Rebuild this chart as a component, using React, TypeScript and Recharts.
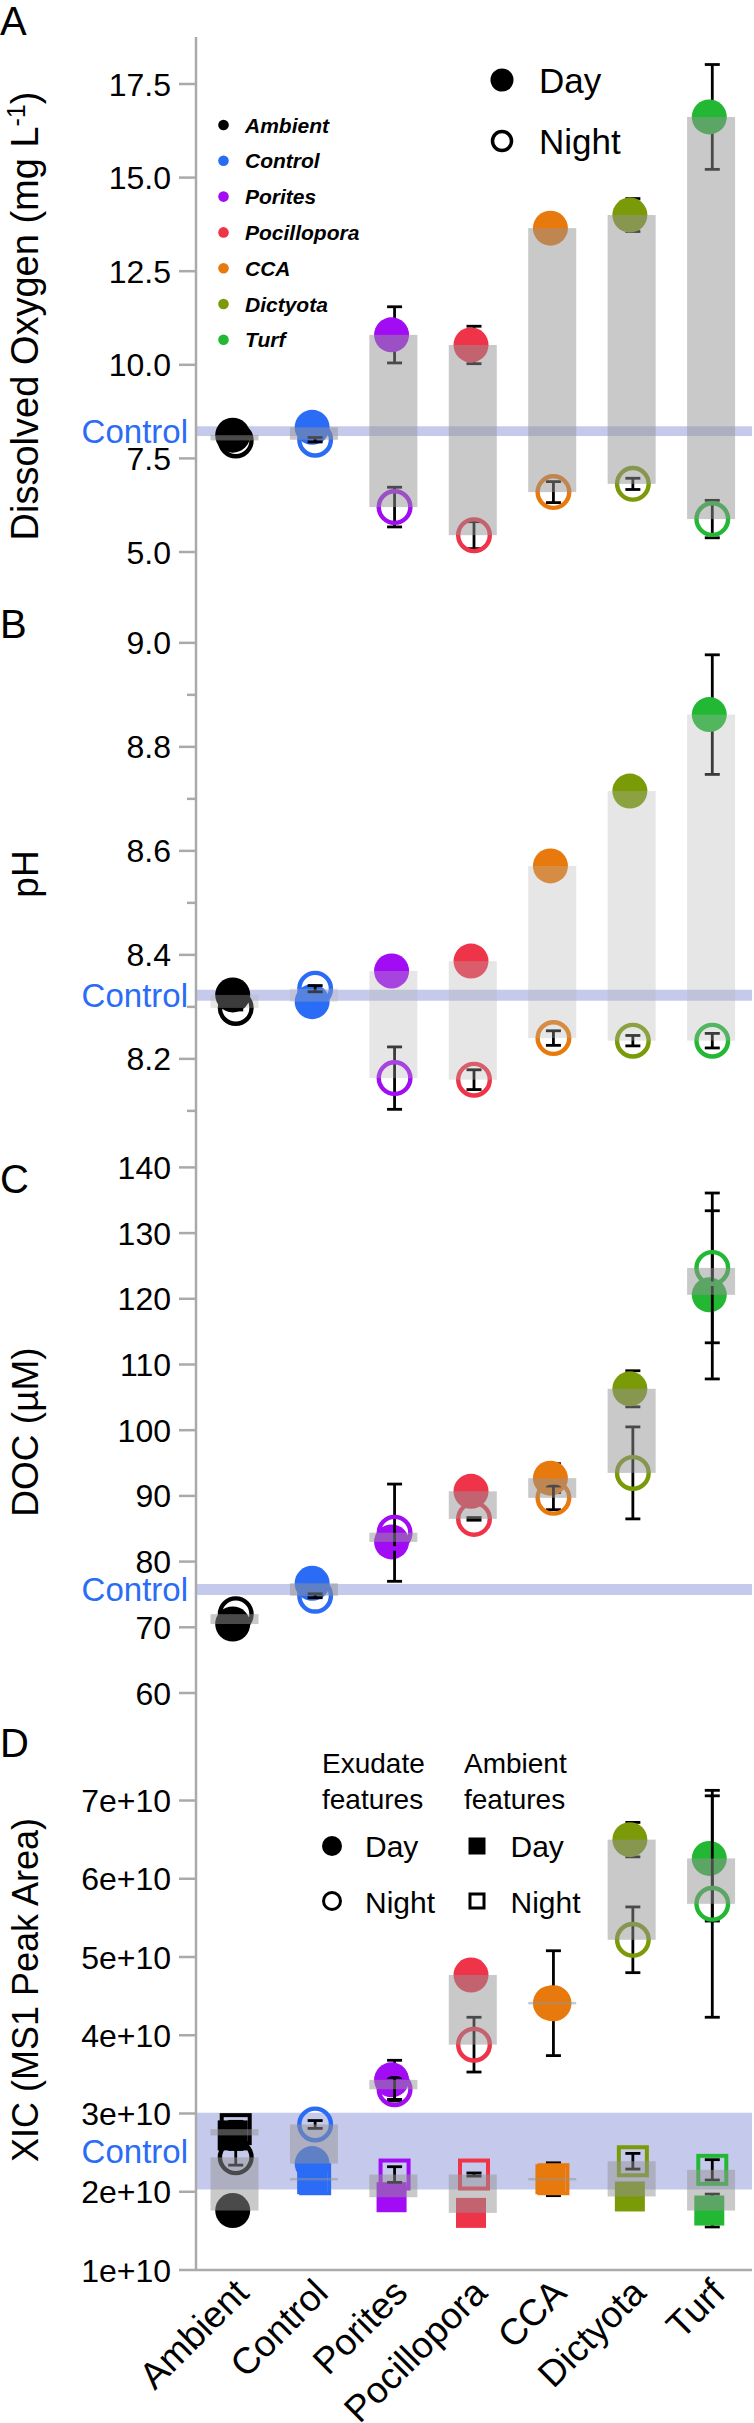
import React from 'react';
import { ComposedChart, Scatter, Bar, XAxis, YAxis, ErrorBar, ReferenceArea } from 'recharts';

const FONT = '"Liberation Sans", Arial, Helvetica, sans-serif';

const categories = ['Ambient', 'Control', 'Porites', 'Pocillopora', 'CCA', 'Dictyota', 'Turf'];
const categoryColors = ['#000000', '#2b6cf6', '#a20cf5', '#ef3349', '#e8790c', '#7a9a08', '#22b834'];

// Panel A: dissolved oxygen
const oxygenDay = [8.12, 8.33, 10.8, 10.53, 13.65, 14.0, 16.62];
const oxygenNight = [7.98, 8.0, 6.2, 5.45, 6.6, 6.82, 5.88];
const oxygenDayErr = [0.04, 0.04, 0.75, 0.5, 0.1, 0.44, 1.4];
const oxygenNightErr = [0.04, 0.06, 0.53, 0.36, 0.28, 0.15, 0.5];
const oxygenControl = [8.1, 8.36];
const oxygenTicks = [5, 7.5, 10, 12.5, 15, 17.5];
const oxygenDomain = [3.852, 18.755];

// Panel B: pH
const phDay = [8.323, 8.31, 8.369, 8.388, 8.571, 8.715, 8.862];
const phNight = [8.298, 8.335, 8.163, 8.16, 8.24, 8.235, 8.235];
const phDayErr = [0.003, 0.003, 0.005, 0.005, 0.005, 0.005, 0.115];
const phNightErr = [0.004, 0.006, 0.06, 0.019, 0.014, 0.01, 0.014];
const phControl = [8.312, 8.333];
const phTicks = [8.1, 8.2, 8.3, 8.4, 8.5, 8.6, 8.7, 8.8, 8.9, 9.0];
const phLabelTicks = [8.2, 8.4, 8.6, 8.8, 9.0];
const phDomain = [8.019, 9.092];

// Panel C: DOC
const docDay = [70.5, 76.7, 83.0, 90.7, 92.7, 106.3, 120.6];
const docNight = [72.0, 74.8, 84.4, 86.5, 89.7, 93.5, 124.7];
const docDayErr = [0.3, 0.3, 0.4, 0.4, 2.2, 2.75, 12.8];
const docNightErr = [0.3, 0.3, 7.4, 0.2, 1.8, 7.0, 11.4];
const docControl = [74.9, 76.6];
const docTicks = [60, 70, 80, 90, 100, 110, 120, 130, 140];
const docDomain = [57.26, 142.19];

// Panel D: XIC
const xicDay = [1.76e10, 2.36e10, 3.43e10, 4.77e10, 4.41e10, 6.5e10, 6.26e10];
const xicNight = [2.44e10, 2.86e10, 3.31e10, 3.88e10, 4.41e10, 5.22e10, 5.68e10];
const xicDayErr = [0.05e10, 0.05e10, 0.25e10, 0.05e10, 0.67e10, 0.22e10, 0.8e10];
const xicNightErr = [0.1e10, 0.05e10, 0.15e10, 0.35e10, 0, 0.42e10, 1.45e10];
const ambientFeatDay = [2.72e10, 2.16e10, 1.93e10, 1.73e10, 2.16e10, 1.94e10, 1.76e10];
const ambientFeatNight = [2.8e10, 2.16e10, 2.22e10, 2.22e10, 2.16e10, 2.39e10, 2.28e10];
const ambientFeatDayErr = [0, 0, 0, 0, 0.21e10, 0, 0.21e10];
const ambientFeatNightErr = [0.1e10, 0, 0.1e10, 0.02e10, 0, 0.1e10, 0.13e10];
const xicControl = [2.03e10, 3.01e10];
const xicTicks = [1e10, 2e10, 3e10, 4e10, 5e10, 6e10, 7e10];
const xicDomain = [1e10, 8.144e10];

const AXIS_GRAY = '#aaaaaa';

function buildRows(day, night, dayErr, nightErr, sqDay?, sqNight?, sqDayErr?, sqNightErr?) {
  return categories.map((cat, i) => {
    const row: any = {
      cat,
      color: categoryColors[i],
      day: day[i],
      night: night[i],
      dayErr: dayErr[i],
      nightErr: nightErr[i],
      range: [Math.min(day[i], night[i]), Math.max(day[i], night[i])],
    };
    if (sqDay) {
      row.sqDay = sqDay[i];
      row.sqNight = sqNight[i];
      row.sqDayErr = sqDayErr[i];
      row.sqNightErr = sqNightErr[i];
      row.sqRange = [Math.min(sqDay[i], sqNight[i]), Math.max(sqDay[i], sqNight[i])];
    }
    return row;
  });
}

const ok = (v) => typeof v === 'number' && isFinite(v);

const DayCircle = (p) => {
  if (!ok(p.cx) || !ok(p.cy)) return null;
  return <circle cx={p.cx - 3} cy={p.cy} r={17.5} fill={p.payload.color} />;
};
const NightRing = (p) => {
  if (!ok(p.cx) || !ok(p.cy)) return null;
  return <circle cx={p.cx} cy={p.cy} r={15.8} fill="none" stroke={p.payload.color} strokeWidth={4.4} />;
};
const DaySquare = (p) => {
  if (!ok(p.cx) || !ok(p.cy)) return null;
  return <rect x={p.cx - 18} y={p.cy - 15} width={30} height={30} fill={p.payload.color} />;
};
const NightSquare = (p) => {
  if (!ok(p.cx) || !ok(p.cy)) return null;
  return <rect x={p.cx - 14} y={p.cy - 14} width={28} height={28} fill="none" stroke={p.payload.color} strokeWidth={4} />;
};

const makeBarShape = (fill, opacity) => (p) => {
  if (!ok(p.x) || !ok(p.y)) return null;
  const h0 = Math.abs(p.height || 0);
  const top0 = (p.height || 0) >= 0 ? p.y : p.y + p.height;
  const h = Math.max(h0, 2.5);
  const top = top0 - (h - h0) / 2;
  const cx = p.x + p.width / 2 - 1.5;
  return <rect x={cx - 24} y={top} width={48} height={h} fill={fill} fillOpacity={opacity} />;
};

const makeYTick = (labelled, fmt) => (p) => {
  const v = p.payload.value;
  const major = labelled.some((t) => Math.abs(t - v) <= 1e-6 * Math.max(1, Math.abs(v)));
  return (
    <g>
      <line x1={p.x - (major ? 17 : 9)} x2={p.x} y1={p.y} y2={p.y} stroke={AXIS_GRAY} strokeWidth={2.5} />
      {major && (
        <text x={p.x - 25} y={p.y} dy="0.36em" textAnchor="end" fontSize={32} fontFamily={FONT} fill="#000">
          {fmt(v)}
        </text>
      )}
    </g>
  );
};

const XTick = (p) => {
  const ax = p.x + 15;
  const ay = p.y + 25;
  return (
    <text x={ax} y={ay} transform={`rotate(-45 ${ax} ${ay})`} textAnchor="end" fontSize={37} fontFamily={FONT} fill="#000">
      {p.payload.value}
    </text>
  );
};

function Panel(props) {
  const {
    top, height, marginTop, marginBottom, domain, ticks, labelled, fmt, rows, band,
    barFill, barOpacity, squares, bottomAxis, topBorder,
  } = props;
  return (
    <div style={{ position: 'absolute', left: 0, top, width: 754, height }}>
      <ComposedChart
        width={754}
        height={height}
        data={rows}
        margin={{ top: marginTop, right: 2, bottom: marginBottom, left: 136 }}
      >
        {bottomAxis ? (
          <XAxis
            dataKey="cat"
            interval={0}
            tickLine={false}
            tickSize={0}
            tickMargin={0}
            height={153}
            tick={XTick}
            axisLine={{ stroke: AXIS_GRAY, strokeWidth: 2.5 }}
          />
        ) : (
          <XAxis dataKey="cat" tick={false} tickLine={false} height={0} axisLine={{ stroke: '#000', strokeWidth: 3 }} />
        )}
        {topBorder && (
          <XAxis
            xAxisId="top"
            orientation="top"
            dataKey="cat"
            tick={false}
            tickLine={false}
            height={0}
            axisLine={{ stroke: AXIS_GRAY, strokeWidth: 2.5 }}
          />
        )}
        {squares && <XAxis xAxisId="sq" dataKey="cat" hide />}
        <YAxis
          type="number"
          domain={domain}
          allowDataOverflow
          ticks={ticks}
          interval={0}
          width={60}
          tickSize={0}
          tickMargin={0}
          tickLine={false}
          axisLine={{ stroke: AXIS_GRAY, strokeWidth: 2.5 }}
          tick={makeYTick(labelled, fmt)}
        />
        <YAxis
          yAxisId="r"
          orientation="right"
          width={0}
          tick={false}
          tickLine={false}
          domain={[0, 1]}
          axisLine={{ stroke: AXIS_GRAY, strokeWidth: 2.5 }}
        />
        <ReferenceArea
          y1={band[0]}
          y2={band[1]}
          fill="#3f51c0"
          fillOpacity={0.3}
          stroke="none"
          zIndex={100}
          label={{ value: 'Control', position: 'left', offset: 8, fill: '#2b6cf6', fontSize: 33, fontFamily: FONT }}
        />
        <Scatter dataKey="day" shape={DayCircle} isAnimationActive={false} zIndex={600}>
          <ErrorBar dataKey="dayErr" direction="y" width={7.5} stroke="#000" strokeWidth={2.8} zIndex={595} />
        </Scatter>
        <Scatter dataKey="night" shape={NightRing} isAnimationActive={false} zIndex={610}>
          <ErrorBar dataKey="nightErr" direction="y" width={7.5} stroke="#000" strokeWidth={2.8} zIndex={605} />
        </Scatter>
        {squares && (
          <Scatter dataKey="sqDay" shape={DaySquare} isAnimationActive={false} zIndex={620}>
            <ErrorBar dataKey="sqDayErr" direction="y" width={7.5} stroke="#000" strokeWidth={2.8} zIndex={615} />
          </Scatter>
        )}
        {squares && (
          <Scatter dataKey="sqNight" shape={NightSquare} isAnimationActive={false} zIndex={630}>
            <ErrorBar dataKey="sqNightErr" direction="y" width={7.5} stroke="#000" strokeWidth={2.8} zIndex={625} />
          </Scatter>
        )}
        <Bar dataKey="range" barSize={48} shape={makeBarShape(barFill, barOpacity)} isAnimationActive={false} zIndex={700} />
        {squares && (
          <Bar
            dataKey="sqRange"
            xAxisId="sq"
            barSize={48}
            shape={makeBarShape(barFill, barOpacity)}
            isAnimationActive={false}
            zIndex={701}
          />
        )}
      </ComposedChart>
    </div>
  );
}

const oxygenRows = buildRows(oxygenDay, oxygenNight, oxygenDayErr, oxygenNightErr);
const phRows = buildRows(phDay, phNight, phDayErr, phNightErr);
const docRows = buildRows(docDay, docNight, docDayErr, docNightErr);
const xicRows = buildRows(
  xicDay, xicNight, xicDayErr, xicNightErr,
  ambientFeatDay, ambientFeatNight, ambientFeatDayErr, ambientFeatNightErr
);

const fmt1 = (v) => v.toFixed(1);
const fmt0 = (v) => String(Math.round(v));
const fmtE = (v) => `${Math.round(v / 1e10)}e+10`;

function Overlay() {
  return (
    <svg
      width={754}
      height={2423}
      style={{ position: 'absolute', left: 0, top: 0, pointerEvents: 'none' }}
      fontFamily={FONT}
    >
      {/* panel letters */}
      <text x={0} y={35} fontSize={40}>A</text>
      <text x={0} y={638} fontSize={40}>B</text>
      <text x={0} y={1193} fontSize={40}>C</text>
      <text x={0} y={1757} fontSize={40}>D</text>

      {/* y titles */}
      <text transform="translate(38,316) rotate(-90)" textAnchor="middle" fontSize={38}>
        Dissolved Oxygen (mg L<tspan dy={-13} fontSize={25}>-1</tspan>
        <tspan dy={13}>)</tspan>
      </text>
      <text transform="translate(38,874) rotate(-90)" textAnchor="middle" fontSize={37}>pH</text>
      <text transform="translate(38,1432) rotate(-90)" textAnchor="middle" fontSize={37}>DOC (µM)</text>
      <text transform="translate(38,1990) rotate(-90)" textAnchor="middle" fontSize={36}>XIC (MS1 Peak Area)</text>

      {/* species legend, panel A */}
      {categories.map((c, i) => (
        <g key={c}>
          <circle cx={223.5} cy={125 + i * 35.8} r={5.3} fill={categoryColors[i]} />
          <text x={245} y={125 + i * 35.8 + 7.5} fontSize={21} fontWeight="bold" fontStyle="italic">
            {c}
          </text>
        </g>
      ))}

      {/* day/night legend, panel A */}
      <circle cx={502} cy={80} r={11.5} fill="#000" />
      <text x={539} y={93} fontSize={35}>Day</text>
      <circle cx={502} cy={141} r={9.5} fill="none" stroke="#000" strokeWidth={3.5} />
      <text x={539} y={154} fontSize={35}>Night</text>

      {/* legend, panel D */}
      <text x={322} y={1773} fontSize={28}>Exudate</text>
      <text x={322} y={1809} fontSize={28}>features</text>
      <text x={464} y={1773} fontSize={28}>Ambient</text>
      <text x={464} y={1809} fontSize={28}>features</text>
      <circle cx={332} cy={1846} r={10} fill="#000" />
      <text x={365} y={1856.5} fontSize={30}>Day</text>
      <circle cx={332} cy={1901} r={8.5} fill="none" stroke="#000" strokeWidth={3} />
      <text x={365} y={1912.5} fontSize={30}>Night</text>
      <rect x={468.5} y={1837.5} width={17} height={17} fill="#000" />
      <text x={510.5} y={1856.5} fontSize={30}>Day</text>
      <rect x={470} y={1894} width={14} height={14} fill="none" stroke="#000" strokeWidth={3} />
      <text x={510.5} y={1912.5} fontSize={30}>Night</text>
    </svg>
  );
}

export default function App() {
  return (
    <div style={{ position: 'absolute', left: 0, top: 0, width: 754, height: 2423, background: '#fff' }}>
      <Panel
        top={35} height={562} marginTop={2} marginBottom={2}
        domain={oxygenDomain} ticks={oxygenTicks} labelled={oxygenTicks} fmt={fmt1}
        rows={oxygenRows} band={oxygenControl} barFill="#959395" barOpacity={0.5} topBorder
      />
      <Panel
        top={595} height={560} marginTop={0} marginBottom={2}
        domain={phDomain} ticks={phTicks} labelled={phLabelTicks} fmt={fmt1}
        rows={phRows} band={phControl} barFill="#b2b2b2" barOpacity={0.33}
      />
      <Panel
        top={1153} height={560} marginTop={0} marginBottom={2}
        domain={docDomain} ticks={docTicks} labelled={docTicks} fmt={fmt0}
        rows={docRows} band={docControl} barFill="#959395" barOpacity={0.5}
      />
      <Panel
        top={1711} height={712} marginTop={0} marginBottom={0}
        domain={xicDomain} ticks={xicTicks} labelled={xicTicks} fmt={fmtE}
        rows={xicRows} band={xicControl} barFill="#959395" barOpacity={0.5} squares bottomAxis
      />
      <Overlay />
    </div>
  );
}
